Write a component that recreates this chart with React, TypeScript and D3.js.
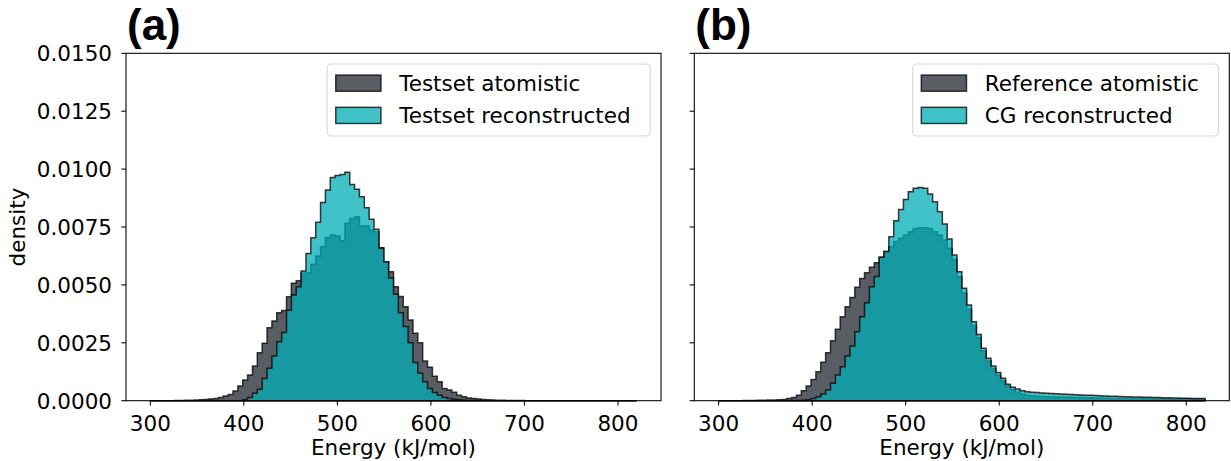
import React from 'react';
import * as d3 from 'd3';

// ---------- data ----------
const BIN_START = 300;
const BIN_END = 820;
const BIN_COUNT = 100;
const DENSITY_UNIT = 1e-4; // values below are in units of 1e-4

const testsetAtomistic = [
  0, 0, 0, 0, 0,
  0.05, 0.1, 0.15, 0.2, 0.3,
  0.4, 0.5, 0.7, 1.0, 1.4,
  2.0, 2.7, 4.2, 6.3, 8.9,
  11.1, 15.0, 20.7, 24.8, 31.5,
  34.4, 38.0, 38.9, 44.9, 50.7,
  51.8, 55.0, 55.3, 58.9, 62.5,
  66.5, 70.5, 71.5, 71.1, 69.1,
  76.6, 78.7, 79.4, 75.4, 75.4,
  73.7, 73.0, 66.0, 60.0, 55.7,
  49.2, 45.0, 40.6, 34.8, 29.1,
  25.0, 17.1, 14.4, 10.6, 8.2,
  5.3, 4.6, 3.6, 2.4, 1.7,
  1.2, 0.9, 0.7, 0.5, 0.4,
  0.3, 0.2, 0.15, 0.1, 0.08,
  0.05, 0.04, 0.03, 0.02, 0.02,
  0.01, 0.01, 0.01, 0.01, 0.01,
  0, 0, 0, 0, 0,
  0, 0, 0, 0, 0,
  0, 0, 0, 0, 0,
];

const testsetReconstructed = [
  0, 0, 0, 0, 0,
  0, 0, 0, 0, 0,
  0, 0, 0, 0, 0,
  0, 0, 0, 0, 0.4,
  1.4, 3.2, 4.9, 9.6, 14.0,
  19.3, 25.5, 29.4, 39.1, 45.6,
  49.2, 56.0, 63.6, 70.4, 77.0,
  85.6, 91.0, 96.4, 97.2, 97.7,
  98.6, 93.4, 91.3, 88.1, 83.3,
  78.3, 74.0, 65.8, 60.0, 53.0,
  46.0, 38.0, 32.0, 25.0, 16.5,
  11.9, 8.2, 5.3, 3.5, 2.3,
  1.4, 1.0, 0.6, 0.4, 0.2,
  0.1, 0.05, 0.03, 0.02, 0.01,
  0, 0, 0, 0, 0,
  0, 0, 0, 0, 0,
  0, 0, 0, 0, 0,
  0, 0, 0, 0, 0,
  0, 0, 0, 0, 0,
  0, 0, 0, 0, 0,
];

const referenceAtomistic = [
  0, 0, 0, 0, 0,
  0.05, 0.08, 0.1, 0.15, 0.2,
  0.25, 0.3, 0.4, 0.5, 1.0,
  1.4, 2.4, 4.3, 6.3, 9.2,
  12.5, 16.6, 20.7, 25.9, 30.8,
  36.3, 40.6, 44.6, 49.0, 52.8,
  55.3, 57.6, 59.6, 61.9, 64.4,
  66.5, 68.7, 70.1, 71.5, 73.0,
  74.4, 74.7, 74.7, 74.4, 73.0,
  71.5, 69.4, 65.8, 61.0, 53.5,
  46.5, 39.5, 32.5, 27.2, 21.5,
  17.2, 13.9, 11.0, 8.6, 6.3,
  4.8, 3.7, 2.9, 2.4, 2.1,
  1.9, 1.8, 1.7, 1.65, 1.6,
  1.55, 1.5, 1.45, 1.4, 1.35,
  1.3, 1.25, 1.2, 1.15, 1.1,
  1.05, 1.0, 1.0, 0.95, 0.95,
  0.9, 0.9, 0.85, 0.85, 0.8,
  0.8, 0.8, 0.75, 0.75, 0.7,
  0.7, 0.7, 0.7, 0.65, 0.65,
];

const cgReconstructed = [
  0, 0, 0, 0, 0,
  0, 0, 0, 0, 0,
  0, 0, 0, 0, 0,
  0.05, 0.1, 0.2, 0.4, 0.9,
  1.7, 2.9, 4.6, 7.5, 11.1,
  14.7, 19.3, 23.6, 29.8, 36.3,
  42.3, 49.2, 53.6, 61.9, 64.4,
  70.8, 77.7, 82.6, 86.9, 90.2,
  91.7, 92.1, 91.7, 89.2, 85.9,
  81.6, 76.3, 69.8, 62.9, 55.7,
  48.5, 41.3, 34.1, 28.6, 22.6,
  18.3, 15.0, 12.2, 9.7, 7.1,
  5.8, 5.0, 4.3, 3.9, 3.6,
  3.5, 3.3, 3.2, 3.1, 3.0,
  2.9, 2.8, 2.7, 2.6, 2.5,
  2.4, 2.3, 2.2, 2.1, 2.0,
  1.95, 1.9, 1.8, 1.75, 1.7,
  1.6, 1.55, 1.5, 1.45, 1.4,
  1.35, 1.3, 1.25, 1.2, 1.15,
  1.1, 1.05, 1.0, 1.0, 0.95,
];

const xTicks = [300, 400, 500, 600, 700, 800];
const yTicks = [0, 0.0025, 0.005, 0.0075, 0.01, 0.0125, 0.015];
const xDomain: [number, number] = [274, 846];
const yDomain: [number, number] = [0, 0.015];

const panelA = { label: '(a)', names: ['Testset atomistic', 'Testset reconstructed'], series: [testsetAtomistic, testsetReconstructed] };
const panelB = { label: '(b)', names: ['Reference atomistic', 'CG reconstructed'], series: [referenceAtomistic, cgReconstructed] };

// ---------- styling ----------
const COLORS = ['#222831', '#00ADB5'];
const ALPHA = 0.75;
const FONT = 'DejaVu Sans';
const FS = 21.5;

const W = 1231;
const H = 461;
const TOP = 53.3;
const BOTTOM = 400.7;
const PANEL_W = 535;
const LEFTS = [126, 694.3];

const edges = d3.range(BIN_COUNT + 1).map((i) => BIN_START + (i * (BIN_END - BIN_START)) / BIN_COUNT);

function histPath(values: number[], x: d3.ScaleLinear<number, number>, y: d3.ScaleLinear<number, number>) {
  const pts: [number, number][] = [[edges[0], 0]];
  values.forEach((v, i) => {
    pts.push([edges[i], v * DENSITY_UNIT]);
    pts.push([edges[i + 1], v * DENSITY_UNIT]);
  });
  pts.push([edges[BIN_COUNT], 0]);
  const line = d3.line<[number, number]>().x((d) => x(d[0])).y((d) => y(d[1]));
  return (line(pts) || '') + 'Z';
}

function measure(text: string, font: string) {
  const c = document.createElement('canvas').getContext('2d');
  if (!c) return text.length * 12;
  c.font = font;
  return c.measureText(text).width;
}

function Panel({ panel, left, showYLabels }: { panel: typeof panelA; left: number; showYLabels: boolean }) {
  const x = d3.scaleLinear().domain(xDomain).range([left, left + PANEL_W]);
  const y = d3.scaleLinear().domain(yDomain).range([BOTTOM, TOP]);
  const right = left + PANEL_W;

  // legend layout (matplotlib-like)
  const pad = 0.4 * FS;
  const handleLen = 2.1 * FS;
  const handleH = 0.75 * FS;
  const textPad = 0.85 * FS;
  const rowH = 1.5 * FS;
  const textW = Math.max(...panel.names.map((n) => measure(n, `${FS}px "${FONT}"`)));
  const boxW = pad * 2 + handleLen + textPad + textW + 11;
  const boxH = 72;
  const boxRight = right - 0.5 * FS;
  const boxLeft = boxRight - boxW;
  const boxTop = TOP + 0.5 * FS;

  return (
    <g>
      {/* histograms */}
      {panel.series.map((s, k) => (
        <path
          key={k}
          d={histPath(s, x, y)}
          fill={COLORS[k]}
          fillOpacity={ALPHA}
          stroke="#000"
          strokeOpacity={ALPHA}
          strokeWidth={1.5}
          strokeLinejoin="miter"
        />
      ))}
      {/* spines */}
      <rect x={left} y={TOP} width={PANEL_W} height={BOTTOM - TOP} fill="none" stroke="#000" strokeWidth={1.07} />
      {/* x ticks */}
      {xTicks.map((t) => (
        <g key={t}>
          <line x1={x(t)} x2={x(t)} y1={BOTTOM} y2={BOTTOM + 4.7} stroke="#000" strokeWidth={1.07} />
          <text x={x(t)} y={430.5} textAnchor="middle" fontFamily={FONT} fontSize={FS} fill="#000">
            {t}
          </text>
        </g>
      ))}
      {/* y ticks */}
      {yTicks.map((t) => (
        <g key={t}>
          <line x1={left - 4.7} x2={left} y1={y(t)} y2={y(t)} stroke="#000" strokeWidth={1.07} />
          {showYLabels && (
            <text x={left - 14} y={y(t) + 7.8} textAnchor="end" fontFamily={FONT} fontSize={FS} fill="#000">
              {d3.format('.4f')(t)}
            </text>
          )}
        </g>
      ))}
      {/* x label */}
      <text x={(left + right) / 2} y={455} textAnchor="middle" fontFamily={FONT} fontSize={FS} fill="#000">
        Energy (kJ/mol)
      </text>
      {/* panel label */}
      <text x={left + 1} y={40} fontFamily="Liberation Sans, Arial, sans-serif" fontWeight="bold" fontSize={44} fill="#000">
        {panel.label}
      </text>
      {/* legend */}
      <rect
        x={boxLeft}
        y={boxTop}
        width={boxW}
        height={boxH}
        rx={4}
        ry={4}
        fill="#fff"
        fillOpacity={0.8}
        stroke="#ccc"
        strokeOpacity={0.8}
        strokeWidth={1.07}
      />
      {panel.names.map((n, k) => {
        const cy = boxTop + pad + 10.5 + k * rowH;
        return (
          <g key={n}>
            <rect
              x={boxLeft + pad}
              y={cy - handleH / 2}
              width={handleLen}
              height={handleH}
              fill={COLORS[k]}
              fillOpacity={ALPHA}
              stroke="#000"
              strokeOpacity={ALPHA}
              strokeWidth={1.5}
            />
            <text x={boxLeft + pad + handleLen + textPad} y={cy + 7.8} fontFamily={FONT} fontSize={FS} fill="#000">
              {n}
            </text>
          </g>
        );
      })}
    </g>
  );
}

export default function App() {
  return (
    <svg
      width={W}
      height={H}
      viewBox={`0 0 ${W} ${H}`}
      style={{ position: 'absolute', left: 0, top: 0, background: '#fff' }}
    >
      <rect x={0} y={0} width={W} height={H} fill="#fff" />
      <Panel panel={panelA} left={LEFTS[0]} showYLabels={true} />
      <Panel panel={panelB} left={LEFTS[1]} showYLabels={false} />
      <text
        transform={`translate(24.5, ${(TOP + BOTTOM) / 2}) rotate(-90)`}
        textAnchor="middle"
        fontFamily={FONT}
        fontSize={FS}
        fill="#000"
      >
        density
      </text>
    </svg>
  );
}
